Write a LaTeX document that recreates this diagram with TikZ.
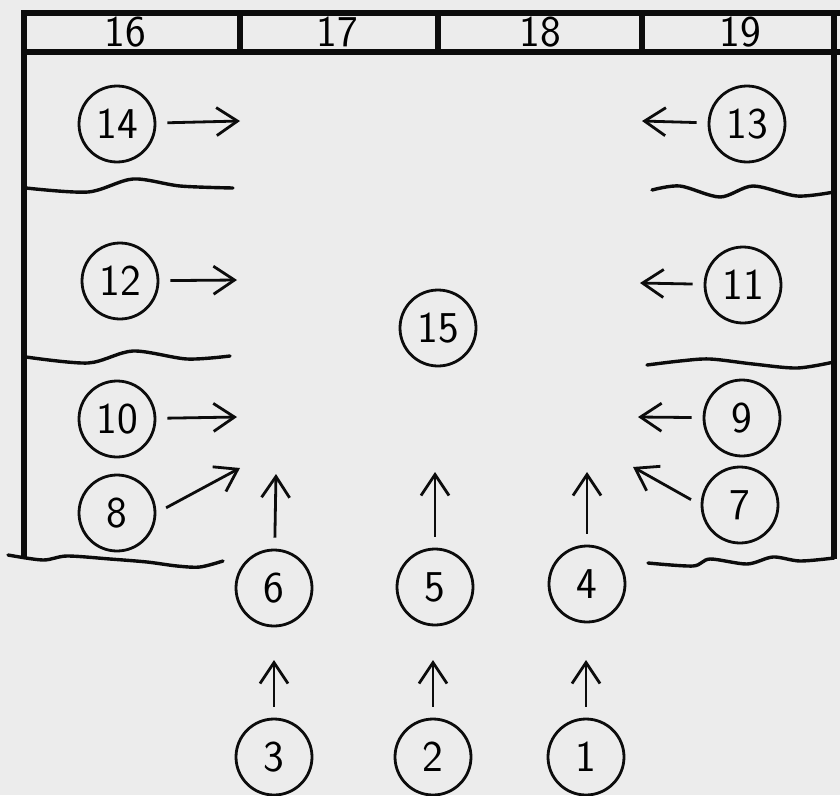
\documentclass[tikz,border=0pt]{standalone}
\usetikzlibrary{arrows.meta}
\definecolor{paper}{RGB}{236,236,236}
\definecolor{ink}{RGB}{12,12,12}

\tikzset{
    frame line/.style = {line width=6pt, draw=ink},
    wave line/.style = {line width=3.4pt, draw=ink, line cap=round},
    pos node/.style = {shape=circle, draw=ink, line width=2.8pt, minimum size=76pt, inner sep=0pt,
        font=\fontsize{44}{48}\selectfont\sffamily},
    head node/.style = {font=\fontsize{44}{48}\selectfont\sffamily},
    cue/.style = {->, line width=2.8pt, draw=ink, shorten <=11pt}
}

\begin{document}
\begin{tikzpicture}[x=1pt,y=-1pt,>={Straight Barb[length=21pt,width=28pt]}]
    \fill[paper] (0,0) rectangle (840,795);
    \useasboundingbox (0,0) rectangle (840,795);

    % stage frame and wall strip
    \draw[frame line] (24,558) -- (24,13) -- (840,13);
    \draw[frame line] (24,52) -- (840,52);
    \draw[frame line] (834,13) -- (834,559);
    \foreach \x in {240,438,642}
        \draw[frame line] (\x,13) -- (\x,52);

    \node[head node] (h16) at (125,32) {16};
    \node[head node] (h17) at (337,32) {17};
    \node[head node] (h18) at (540,32) {18};
    \node[head node] (h19) at (740,32) {19};

    % curtains
    \draw[wave line] plot[smooth] coordinates {(26,188) (88,192) (133,179) (180,186) (233,188)};
    \draw[wave line] plot[smooth] coordinates {(652,190) (680,186) (720,197) (753,186) (797,196) (834,192)};
    \draw[wave line] plot[smooth] coordinates {(26,357) (88,363) (133,351) (187,359) (230,356)};
    \draw[wave line] plot[smooth] coordinates {(647,365) (680,361) (710,359) (753,364) (797,368) (834,362)};
    \draw[wave line] plot[smooth] coordinates {(8,555) (43,560) (67,556) (110,559) (147,562) (177,566) (200,567) (223,561)};
    \draw[wave line] plot[smooth] coordinates {(648,563) (693,566) (710,559) (747,564) (773,557) (800,561) (834,558)};

    \node[pos node] (c14) at (117,124) {14};
    \node[pos node] (c13) at (747,124) {13};
    \node[pos node] (c12) at (120,281) {12};
    \node[pos node] (c11) at (743,285) {11};
    \node[pos node] (c15) at (438,328) {15};
    \node[pos node] (c10) at (117,419) {10};
    \node[pos node] (c9)  at (742,418) {9};
    \node[pos node] (c8)  at (117,513) {8};
    \node[pos node] (c7)  at (740,505) {7};
    \node[pos node] (c6)  at (274,588) {6};
    \node[pos node] (c5)  at (435,587) {5};
    \node[pos node] (c4)  at (587,584) {4};
    \node[pos node] (c3)  at (274,757) {3};
    \node[pos node] (c2)  at (433,757) {2};
    \node[pos node] (c1)  at (586,757) {1};

    \coordinate (t14) at (240,121);
    \coordinate (t13) at (642,121);
    \coordinate (t12) at (237,280);
    \coordinate (t11) at (640,283);
    \coordinate (t10) at (237,417);
    \coordinate (t9)  at (638,417);
    \coordinate (t8)  at (240,468);
    \coordinate (t7)  at (633,467);
    \coordinate (t6)  at (276,474);
    \coordinate (t5)  at (435,472);
    \coordinate (t4)  at (587,472);
    \coordinate (t3)  at (274,660);
    \coordinate (t2)  at (433,660);
    \coordinate (t1)  at (586,660);

    \draw[cue] (c14) -- (t14);
    \draw[cue] (c13) -- (t13);
    \draw[cue] (c12) -- (t12);
    \draw[cue] (c11) -- (t11);
    \draw[cue] (c10) -- (t10);
    \draw[cue] (c9) -- (t9);
    \draw[cue] (c8.0) -- (t8);
    \draw[cue] (c7.180) -- (t7);
    \draw[cue] (c6) -- (t6);
    \draw[cue] (c5) -- (t5);
    \draw[cue] (c4) -- (t4);
    \draw[cue] (c3) -- (t3);
    \draw[cue] (c2) -- (t2);
    \draw[cue] (c1) -- (t1);
\end{tikzpicture}
\end{document}
